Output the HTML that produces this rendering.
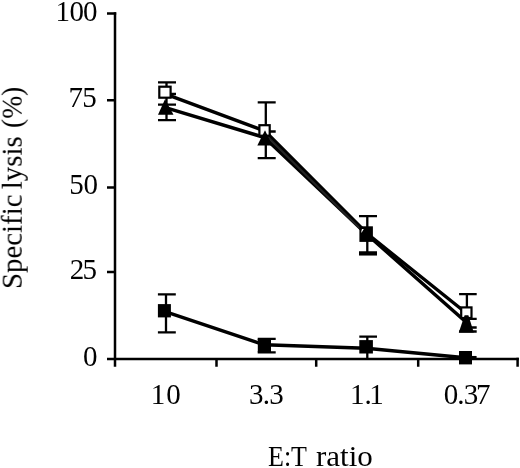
<!DOCTYPE html>
<html><head><meta charset="utf-8">
<style>
html,body{margin:0;padding:0;background:#fff;}
body{width:520px;height:468px;overflow:hidden;}
svg{display:block;}
text{font-family:"Liberation Serif",serif;fill:#000;}
.t{will-change:transform;opacity:0.999}
</style></head>
<body>
<svg width="520" height="468" viewBox="0 0 520 468">
<rect x="0" y="0" width="520" height="468" fill="#fff"/>
<!-- axes -->
<g stroke="#000" stroke-width="2.5" fill="none" stroke-linecap="butt">
  <path d="M115 12.2 V366.8"/>
  <path d="M107 13.5 H116.2 M107 100.3 H115 M107 187.4 H115 M107 272.1 H115"/>
  <path d="M107 359 H518.8"/>
  <path d="M216.5 359 V366.8 M316.2 359 V366.8 M418.2 359 V366.8 M517.6 357.8 V366.8"/>
</g>
<g class="t">
<!-- tick labels -->
<g font-size="29" text-anchor="middle">
  <text x="62.75" y="20.6">1</text>
  <text x="76.85" y="20.6">0</text>
  <text x="90.25" y="20.6">0</text>
  <text x="75.85" y="107.4">7</text>
  <text x="89.55" y="107.4">5</text>
  <text x="76.45" y="194.3">5</text>
  <text x="90.75" y="194.3">0</text>
  <text x="76.95" y="278.8">2</text>
  <text x="89.65" y="278.8">5</text>
  <text x="90.20" y="365.9">0</text>
  <text x="158.05" y="404.1">1</text>
  <text x="173.45" y="404.1">0</text>
  <text x="256.30" y="404.1">3</text>
  <text x="266.45" y="404.1">.</text>
  <text x="276.50" y="404.1">3</text>
  <text x="357.35" y="404.1">1</text>
  <text x="368.05" y="404.1">.</text>
  <text x="376.50" y="404.1">1</text>
  <text x="451.10" y="404.2">0</text>
  <text x="460.95" y="404.2">.</text>
  <text x="470.95" y="404.2">3</text>
  <text x="483.35" y="404.2">7</text>
</g>
<text x="268" y="466.4" font-size="28.5" textLength="39" lengthAdjust="spacingAndGlyphs">E:T</text>
<text x="316" y="466.4" font-size="28.5" textLength="56.8" lengthAdjust="spacingAndGlyphs">ratio</text>
<g transform="translate(21.7 0) rotate(-90)" font-size="29">
  <text x="-289" y="0" textLength="94.5" lengthAdjust="spacingAndGlyphs">Specific</text>
  <text x="-189.2" y="0" textLength="53" lengthAdjust="spacingAndGlyphs">lysis</text>
  <text x="-128" y="0" textLength="41.3" lengthAdjust="spacingAndGlyphs">(%)</text>
</g>
</g>

<!-- series lines -->
<g stroke="#000" stroke-width="3.5" fill="none" stroke-linejoin="round">
  <polyline points="165,93.8 264.5,130.8 367,233.5 466.2,313"/>
  <polyline points="165.5,107.6 264.5,137.5 367,234.5 466.5,322.5"/>
  <path d="M267 136.3 L365 233.8" stroke="#222" stroke-width="2"/>
  <polyline points="164.4,311.3 264.4,344.8 366,348.3 465.5,357.7"/>
</g>
<!-- error bars -->
<g stroke="#000" stroke-width="2.3" fill="none">
  <!-- cluster 1 -->
  <path d="M166.5 82.3 V121 M158 82.3 H176 M158 104.7 H176 M158 120.2 H176 M167.5 94 H176"/>
  <!-- cluster 2 -->
  <path d="M265.8 102.3 V158.2 M257.7 102.3 H275.7 M257.7 158.2 H275.7 M266 131.5 H275.7"/>
  <!-- cluster 3 -->
  <path d="M367.3 216.2 V254 M359 216.2 H377"/>
  <path d="M359 253.4 H377" stroke-width="4.3"/>
  <!-- cluster 4 -->
  <path d="M466.9 294.1 V331 M459.1 294.1 H476.7 M466 318.8 H476.7 M463 327.5 H476.7 M459.1 331.5 H476.7"/>
  <!-- filled series -->
  <path d="M166 294.4 V332.3 M157.9 294.4 H175.8 M157.9 332.3 H175.8"/>
  <path d="M257.7 338.9 H275.7 M257.7 352.3 H275.7"/>
  <path d="M367.3 336.6 V358 M359.3 336.6 H377"/>
  <path d="M466 357.1 H476.6"/>
</g>
<!-- open squares -->
<g fill="#fff" stroke="#000" stroke-width="2.2">
  <rect x="159.3" y="86.7" width="11.3" height="11"/>
  <rect x="259.4" y="125.2" width="10.3" height="10.5"/>
  <rect x="461.2" y="307.4" width="10.3" height="10.6"/>
</g>
<!-- triangles -->
<g fill="#000">
  <polygon points="165,99.2 158,114.8 173.5,114.8"/>
  <polygon points="265,130.3 257.3,145.6 272.4,145.6"/>
  <polygon points="464.6,315.3 468.4,315.3 473.8,332.6 458.8,332.6"/>
</g>
<!-- filled squares -->
<g fill="#000">
  <rect x="359.4" y="226.3" width="13.5" height="15.6"/>
  <rect x="157.9" y="304.1" width="13" height="13.3"/>
  <rect x="257.8" y="339" width="13.2" height="13.2"/>
  <rect x="359.3" y="340.1" width="13.6" height="13.4"/>
  <rect x="459" y="351" width="13" height="13.4"/>
</g>
<polygon points="362,229 363.8,229 361.4,233 361.4,231" fill="#fff"/>
</svg>
</body></html>
